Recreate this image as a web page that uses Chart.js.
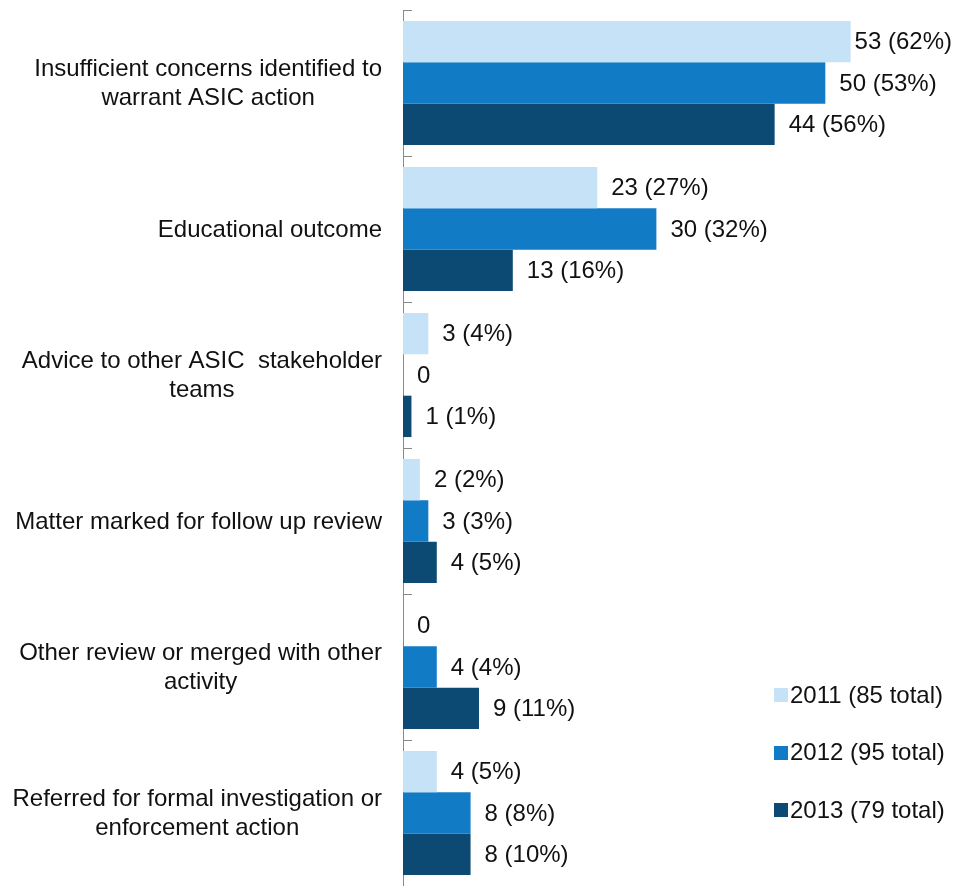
<!DOCTYPE html>
<html>
<head>
<meta charset="utf-8">
<script src="https://cdn.jsdelivr.net/npm/chart.js@4/dist/chart.umd.min.js"></script>
<style>
    body { margin: 0; background: #fff; }
    #wrap { position: relative; width: 955px; height: 886px; }
</style>
</head>
<body>
<div id="wrap"><canvas id="outcomeChart"></canvas></div>
<script>
// Chart data
const categories = [
    ['Insufficient concerns identified to', 'warrant ASIC action'],
    ['Educational outcome'],
    ['Advice to other ASIC  stakeholder', 'teams'],
    ['Matter marked for follow up review'],
    ['Other review or merged with other', 'activity'],
    ['Referred for formal investigation or', 'enforcement action']
];
const seriesNames = ['2011 (85 total)', '2012 (95 total)', '2013 (79 total)'];
const counts2011 = [53, 23, 3, 2, 0, 4];
const counts2012 = [50, 30, 0, 3, 4, 8];
const counts2013 = [44, 13, 1, 4, 9, 8];
const pct2011 = [62, 27, 4, 2, 0, 5];
const pct2012 = [53, 32, 0, 3, 4, 8];
const pct2013 = [56, 16, 1, 5, 11, 10];

const colors = ['#c6e2f7', '#127bc6', '#0c4a74'];
const FONT = '24px "Liberation Sans", Arial, sans-serif';
const TEXT_COLOR = '#111';

// Category labels: block right-aligned to the axis, lines centred inside the block
const categoryLabels = {
    id: 'categoryLabels',
    afterDraw(chart) {
        const ctx = chart.ctx;
        const yScale = chart.scales.y;
        const right = chart.chartArea.left - 21;
        const lineH = 28.5;
        ctx.save();
        ctx.font = FONT;
        ctx.fillStyle = TEXT_COLOR;
        ctx.textAlign = 'center';
        ctx.textBaseline = 'middle';
        chart.data.labels.forEach((lines, i) => {
            const blockW = Math.max(...lines.map(l => ctx.measureText(l).width));
            const cx = right - blockW / 2;
            const cy = yScale.getPixelForValue(i) + 1;
            lines.forEach((line, j) => {
                ctx.fillText(line, cx, cy + (j - (lines.length - 1) / 2) * lineH);
            });
        });
        ctx.restore();
    }
};

// Short ticks at category boundaries, pointing into the plot
const boundaryTicks = {
    id: 'boundaryTicks',
    afterDraw(chart) {
        const ctx = chart.ctx;
        const yScale = chart.scales.y;
        const x = chart.chartArea.left;
        const n = chart.data.labels.length;
        ctx.save();
        ctx.strokeStyle = '#8a8a8a';
        ctx.lineWidth = 1;
        ctx.beginPath();
        for (let i = 0; i <= n; i++) {
            let y;
            if (i === 0) y = chart.chartArea.top;
            else if (i === n) y = chart.chartArea.bottom;
            else y = (yScale.getPixelForValue(i - 1) + yScale.getPixelForValue(i)) / 2;
            y = Math.round(y) + 0.5;
            ctx.moveTo(x, y);
            ctx.lineTo(x + 9, y);
        }
        ctx.stroke();
        ctx.restore();
    }
};

// Value labels "n (p%)" after each bar
const valueLabels = {
    id: 'valueLabels',
    afterDatasetsDraw(chart) {
        const ctx = chart.ctx;
        const maxRight = chart.width - 3;
        ctx.save();
        ctx.font = FONT;
        ctx.fillStyle = TEXT_COLOR;
        ctx.textAlign = 'left';
        ctx.textBaseline = 'middle';
        chart.data.datasets.forEach((ds, di) => {
            const meta = chart.getDatasetMeta(di);
            meta.data.forEach((bar, i) => {
                const v = ds.data[i];
                const text = v === 0 ? '0' : v + ' (' + ds.percents[i] + '%)';
                const w = ctx.measureText(text).width;
                let x = bar.x + 14;
                if (x + w > maxRight) x = maxRight - w;
                ctx.fillText(text, x, bar.y + 1);
            });
        });
        ctx.restore();
    }
};

// Legend in the lower right corner
const cornerLegend = {
    id: 'cornerLegend',
    afterDraw(chart) {
        const ctx = chart.ctx;
        const boxX = 774, textX = 790, firstY = 695, step = 57.5, box = 14;
        ctx.save();
        ctx.font = FONT;
        ctx.textAlign = 'left';
        ctx.textBaseline = 'middle';
        chart.data.datasets.forEach((ds, i) => {
            const y = firstY + i * step;
            ctx.fillStyle = ds.backgroundColor;
            ctx.fillRect(boxX, Math.round(y - box / 2), box, box);
            ctx.fillStyle = TEXT_COLOR;
            ctx.fillText(ds.label, textX, y + 1);
        });
        ctx.restore();
    }
};

document.addEventListener('DOMContentLoaded', () => {
    const ctx = document.getElementById('outcomeChart').getContext('2d');
    const counts = [counts2011, counts2012, counts2013];
    const percents = [pct2011, pct2012, pct2013];

    new Chart(ctx, {
        type: 'bar',
        data: {
            labels: categories,
            datasets: seriesNames.map((name, i) => ({
                label: name,
                data: counts[i],
                percents: percents[i],
                backgroundColor: colors[i],
                borderWidth: 0,
                barPercentage: 1,
                categoryPercentage: 0.85
            }))
        },
        options: {
            indexAxis: 'y',
            responsive: true,
            maintainAspectRatio: false,
            animation: false,
            layout: {
                padding: { left: 403, top: 10, right: 3, bottom: 0 }
            },
            scales: {
                x: {
                    display: false,
                    min: 0,
                    max: 65
                },
                y: {
                    position: 'left',
                    grid: { display: false },
                    ticks: { display: false },
                    border: { display: true, color: '#8a8a8a', width: 1 },
                    afterFit: (scale) => { scale.width = 0; }
                }
            },
            plugins: {
                legend: { display: false },
                tooltip: { enabled: false }
            }
        },
        plugins: [categoryLabels, boundaryTicks, valueLabels, cornerLegend]
    });
});
</script>
</body>
</html>
